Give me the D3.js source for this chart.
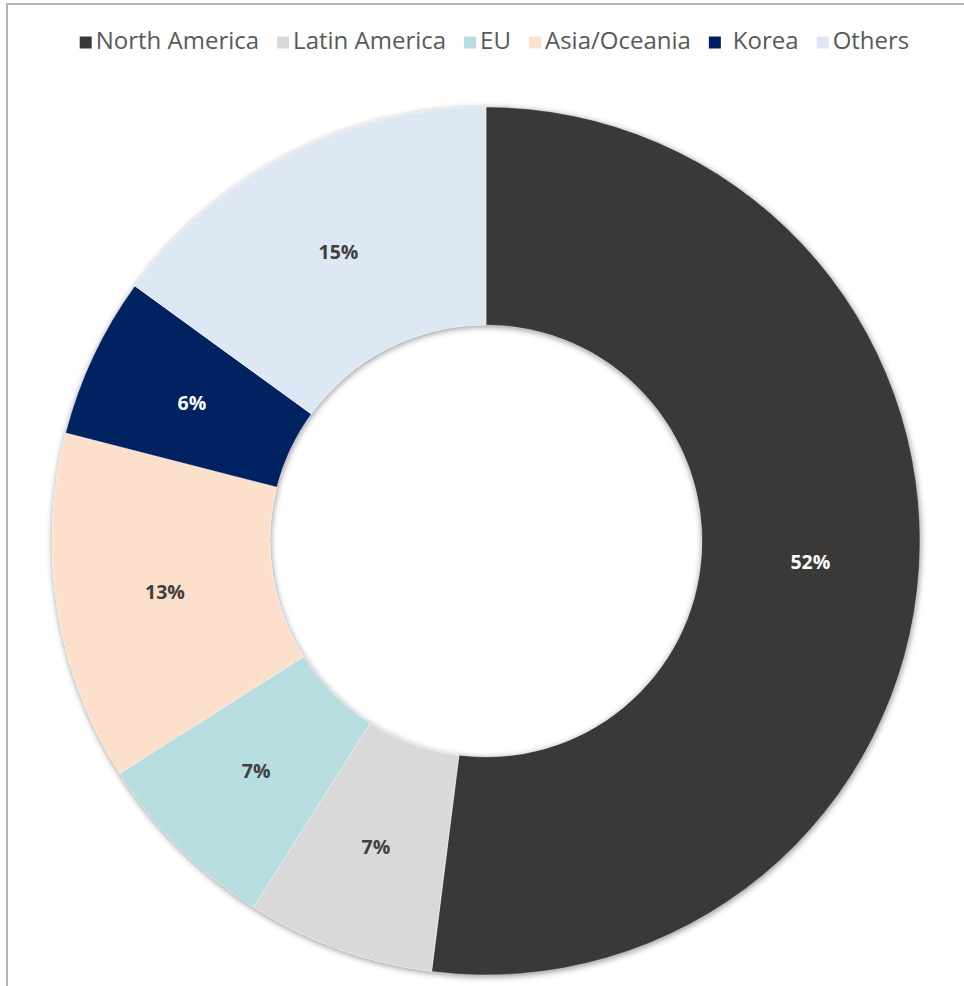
<!DOCTYPE html>
<html>
<head>
<meta charset="utf-8">
<script src="https://cdn.jsdelivr.net/npm/d3@7"></script>
<style>
  html, body { margin: 0; padding: 0; background: #ffffff; }
  svg { display: block; }
</style>
</head>
<body>
<svg id="chart" width="964" height="986"></svg>
<script>
// Regional share of the total, in percent
const regions = ["North America", "Latin America", "EU", "Asia/Oceania", "Korea", "Others"];
const shares = [52, 7, 7, 13, 6, 15];
const sliceColors = ["#3a3938", "#d9d9d9", "#b7dde0", "#fde0cb", "#002060", "#dde8f4"];
const labelColors = ["#ffffff", "#404040", "#404040", "#404040", "#ffffff", "#404040"];

const width = 964, height = 986;
const cx = 486, cy = 541;
const outerR = 434, innerR = 216;

const svg = d3.select("#chart");

// chart frame
svg.append("rect")
  .attr("x", 7).attr("y", 4)
  .attr("width", 1000).attr("height", 1000)
  .attr("fill", "none")
  .attr("stroke", "#b3b3b3")
  .attr("stroke-width", 2);

// soft shadow around the ring
const defs = svg.append("defs");
const f = defs.append("filter").attr("id", "ringShadow")
  .attr("x", "-10%").attr("y", "-10%").attr("width", "120%").attr("height", "120%");
f.append("feDropShadow")
  .attr("dx", 0.5).attr("dy", 1.5)
  .attr("stdDeviation", 3)
  .attr("flood-color", "#000000")
  .attr("flood-opacity", 0.45);

const data = regions.map((r, i) => ({ region: r, value: shares[i], color: sliceColors[i], label: labelColors[i] }));

const pie = d3.pie().value(d => d.value).sort(null);
const arcs = pie(data);
const total = d3.sum(shares);

const arc = d3.arc().innerRadius(innerR).outerRadius(outerR);
const labelArc = d3.arc().innerRadius((innerR + outerR) / 2).outerRadius((innerR + outerR) / 2);

const g = svg.append("g").attr("transform", `translate(${cx},${cy})`);

const ring = g.append("g").attr("filter", "url(#ringShadow)");
ring.selectAll("path")
  .data(arcs)
  .join("path")
  .attr("d", arc)
  .attr("fill", d => d.data.color);

// thin white seams between slices
g.append("g").selectAll("path")
  .data(arcs)
  .join("path")
  .attr("d", arc)
  .attr("fill", "none")
  .attr("stroke", "#ffffff")
  .attr("stroke-width", 0.6)
  .attr("stroke-opacity", 0.6);

const fmt = d3.format(".0%");
g.append("g").selectAll("text")
  .data(arcs)
  .join("text")
  .attr("transform", d => `translate(${labelArc.centroid(d)})`)
  .attr("text-anchor", "middle")
  .attr("dominant-baseline", "central")
  .attr("font-family", "'Open Sans', 'Noto Sans', sans-serif")
  .attr("font-weight", 700)
  .attr("font-size", 19.5)
  .attr("fill", d => d.data.label)
  .text(d => fmt(d.data.value / total));

// legend across the top
const legend = svg.append("g").attr("font-family", "'Open Sans', 'Noto Sans', sans-serif")
  .attr("font-size", 24).attr("fill", "#595959");
const items = legend.selectAll("g").data(data).join("g");
items.append("rect")
  .attr("width", 12).attr("height", 12)
  .attr("y", -4.5)
  .attr("fill", d => d.color);
items.append("text")
  .attr("x", d => d.region === "Korea" ? 24 : 16)
  .attr("y", 0)
  .attr("dy", "0.32em")
  .text(d => d.region);

let xPos = 0;
const gap = 18;
items.each(function(d) {
  const t = d3.select(this).select("text");
  const w = +t.attr("x") + t.node().getComputedTextLength();
  d3.select(this).attr("transform", `translate(${xPos},41)`);
  xPos += w + gap;
});
const legendW = xPos - gap;
legend.attr("transform", `translate(${494.5 - legendW / 2},0)`);
</script>
</body>
</html>
